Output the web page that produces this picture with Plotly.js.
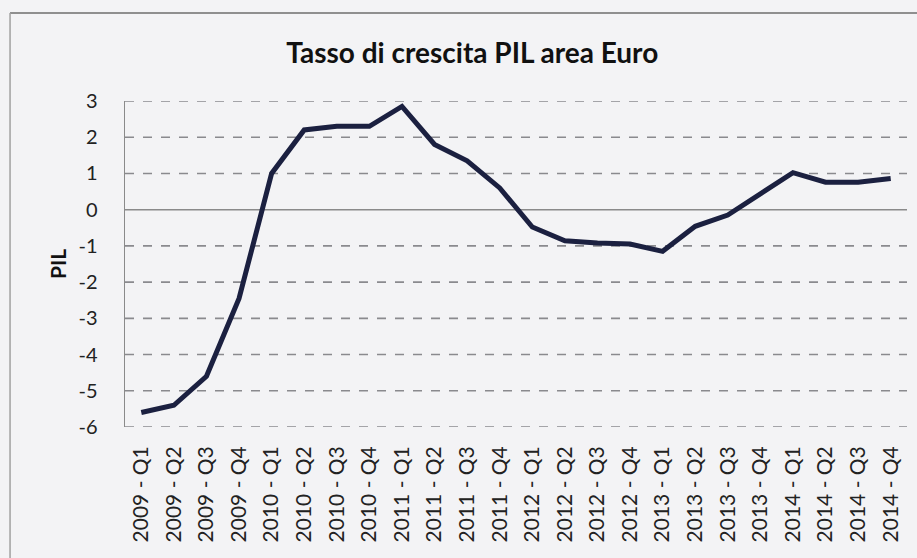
<!DOCTYPE html>
<html>
<head>
<meta charset="utf-8">
<script src="https://cdn.plot.ly/plotly-3.0.1.min.js"></script>
<style>html,body{margin:0;padding:0;background:#f3f3f5;}#chart{width:917px;height:558px;}</style>
</head>
<body>
<div id="chart"></div>
<script>
const categories = ["2009 - Q1","2009 - Q2","2009 - Q3","2009 - Q4",
  "2010 - Q1","2010 - Q2","2010 - Q3","2010 - Q4",
  "2011 - Q1","2011 - Q2","2011 - Q3","2011 - Q4",
  "2012 - Q1","2012 - Q2","2012 - Q3","2012 - Q4",
  "2013 - Q1","2013 - Q2","2013 - Q3","2013 - Q4",
  "2014 - Q1","2014 - Q2","2014 - Q3","2014 - Q4"];
const pil = [-5.6, -5.4, -4.6, -2.45,
  1.0, 2.2, 2.3, 2.3,
  2.85, 1.8, 1.35, 0.6,
  -0.48, -0.86, -0.92, -0.95,
  -1.15, -0.46, -0.15, 0.43,
  1.02, 0.76, 0.76, 0.86];
const yTicks = [3, 2, 1, 0, -1, -2, -3, -4, -5, -6];
const yTickLabels = ["3", "2", "1", "0", "-1", "-2", "-3", "-4", "-5", "-6"];

const FONT = "Lato, 'Open Sans', sans-serif";
const trace = {
  x: categories, y: pil, type: "scatter", mode: "lines",
  line: {color: "#1b2040", width: 5}, hoverinfo: "x+y"
};
const gridShapes = yTicks.filter(v => v !== 0).map(v => ({
  type: "line", xref: "paper", yref: "y", x0: 0, x1: 1, y0: v, y1: v,
  line: {color: "#8a8a8e", width: 1.6, dash: "dash"}, layer: "below"
}));
gridShapes.push({type: "line", xref: "paper", yref: "y", x0: 0, x1: 1, y0: 0, y1: 0,
  line: {color: "#8a8a8a", width: 1.5}, layer: "below"});
// outer frame of the scanned chart
gridShapes.push({type: "line", xref: "paper", yref: "paper", x0: -0.147, x1: 1.02, y0: 1.27, y1: 1.27,
  line: {color: "#8f8f8f", width: 2}});
gridShapes.push({type: "line", xref: "paper", yref: "paper", x0: -0.147, x1: -0.147, y0: 1.27, y1: -0.45,
  line: {color: "#a0a0a0", width: 1.5}});

const layout = {
  width: 917, height: 558,
  paper_bgcolor: "#f3f3f5", plot_bgcolor: "#f3f3f5",
  margin: {l: 125, r: 10, t: 101, b: 131},
  showlegend: false,
  title: {text: "<b>Tasso di crescita PIL area Euro</b>", x: 0.515, xanchor: "center", y: 0.905, yanchor: "middle",
    font: {family: FONT, size: 28, color: "#111"}},
  xaxis: {
    type: "category", range: [-0.5, 23.5], tickangle: -90,
    showgrid: false, zeroline: false, showline: false, ticks: "",
    ticklabelstandoff: 14,
    tickfont: {family: FONT, size: 21, color: "#222"}
  },
  yaxis: {
    range: [-6, 3], tickvals: yTicks, ticktext: yTickLabels, showgrid: false, zeroline: false,
    showline: true, linecolor: "#8a8a8a", linewidth: 1.5, ticks: "",
    ticklabelstandoff: 22,
    tickfont: {family: FONT, size: 20, color: "#222"},
    title: {text: "<b>PIL</b>", standoff: 6, font: {family: FONT, size: 21, color: "#111"}}
  },
  shapes: gridShapes
};
Plotly.newPlot("chart", [trace], layout, {displayModeBar: false, staticPlot: true});
</script>
</body>
</html>
